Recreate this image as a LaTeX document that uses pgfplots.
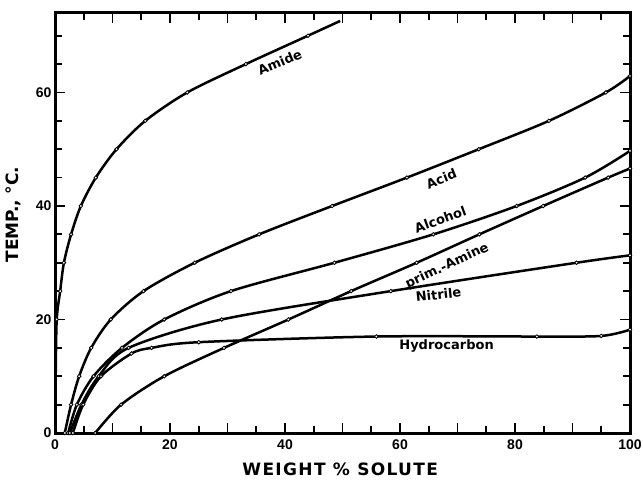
\documentclass[border=0pt]{standalone}
\usepackage{fontspec}
\setmainfont{DejaVu Sans}
\newfontfamily\tickfont{Liberation Sans}
\usepackage{pgfplots}
\pgfplotsset{compat=1.18}

% curve data (smooth lines) and measured points (open circles)
\pgfplotstableread{
x y
0 0
0.12 10
0.3 20
0.9 25
1.55 30
2.8 35
4.5 40
7.1 45
10.7 50
15.7 55
23 60
33.2 65
44 70
49.6 72.6
}\amidecurve
\pgfplotstableread{
x y
0.3 20
0.9 25
1.55 30
2.8 35
4.5 40
7.1 45
10.7 50
15.7 55
23 60
33.2 65
44 70
}\amidepts
\pgfplotstableread{
x y
1.7 0
2.8 5
4.2 10
6.3 15
9.7 20
15.4 25
24.3 30
35.5 35
48.2 40
61.2 45
73.7 50
85.9 55
95.8 60
100 62.9
}\acid
\pgfplotstableread{
x y
2.3 0
3.8 5
6.7 10
11.65 15
19 20
30.6 25
48.6 30
65.8 35
80.3 40
92.2 45
100 49.7
}\alcohol
\pgfplotstableread{
x y
2.6 0
4.6 5
7.6 10
12.8 15
29 20
58.4 25
90.7 30
100 31.3
}\nitrile
\pgfplotstableread{
x y
3.1 0
4.9 5
8.0 10
13.3 14
16.8 15
25 16
55.9 17
83.8 17
95 17.1
100 18.2
}\hydrocarbon
\pgfplotstableread{
x y
7 0
11.5 5
19 10
29.4 15
40.6 20
51.5 25
62.9 30
73.8 35
84.9 40
96.2 45
100 46.6
}\amine

\begin{document}
\begin{tikzpicture}[lbl/.style={font=\fontsize{13}{13}\selectfont\bfseries, inner sep=1pt}]
\path[use as bounding box] (0,0) rectangle (643pt,480pt);
\begin{axis}[
  at={(55pt,47pt)}, anchor=south west,
  width=575pt, height=420pt, scale only axis,
  xmin=0, xmax=100, ymin=0, ymax=74,
  axis line style={line width=3pt},
  xtick={0,10,...,100}, xticklabels={0,,20,,40,,60,,80,,100},
  minor xtick={5,15,...,95},
  ytick={0,20,40,60}, minor ytick={5,10,...,70},
  tick align=inside,
  every tick/.style={black, line width=1.8pt},
  major tick length=10pt, minor tick length=7pt,
  /pgf/number format/assume math mode=true,
  ticklabel style={font=\tickfont\fontsize{14}{14}\selectfont\bfseries},
  xticklabel style={yshift=-3pt},
  xlabel={WEIGHT \% SOLUTE},
  ylabel={TEMP., °C.},
  xlabel style={at={(axis description cs:0.496,-0.087)}, anchor=center,
    font=\fontsize{17}{17}\selectfont\bfseries\addfontfeature{LetterSpace=8}},
  ylabel style={at={(axis description cs:-0.073,0.52)}, anchor=center,
    font=\fontsize{17}{17}\selectfont\bfseries},
  curve/.style={black, line width=2.5pt, smooth, tension=0.5, no markers},
  pts/.style={only marks, mark=*, mark size=1.8pt,
    mark options={draw=black, fill=white, line width=0.8pt}},
]
\addplot[curve] table {\amidecurve};
\addplot[curve] table {\acid};
\addplot[curve] table {\alcohol};
\addplot[curve] table {\nitrile};
\addplot[curve] table {\hydrocarbon};
\addplot[curve] table {\amine};

\addplot[pts] table {\amidepts};
\addplot[pts] table[skip first n=1] {\acid};
\addplot[pts] table[skip first n=1] {\alcohol};
\addplot[pts] table[skip first n=1] {\nitrile};
\addplot[pts] table[skip first n=4] {\hydrocarbon};
\addplot[pts] table[skip first n=1] {\amine};

\node[lbl, rotate=23] at (axis cs:39.1,65.3) {Amide};
\node[lbl, rotate=22] at (axis cs:67.2,44.8) {Acid};
\node[lbl, rotate=20] at (axis cs:67,37.6) {Alcohol};
\node[lbl, rotate=25] at (axis cs:68.2,29.4) {prim.-Amine};
\node[lbl, rotate=6] at (axis cs:66.7,24.4) {Nitrile};
\node[lbl] at (axis cs:68.1,15.3) {Hydrocarbon};
\end{axis}
\end{tikzpicture}
\end{document}
